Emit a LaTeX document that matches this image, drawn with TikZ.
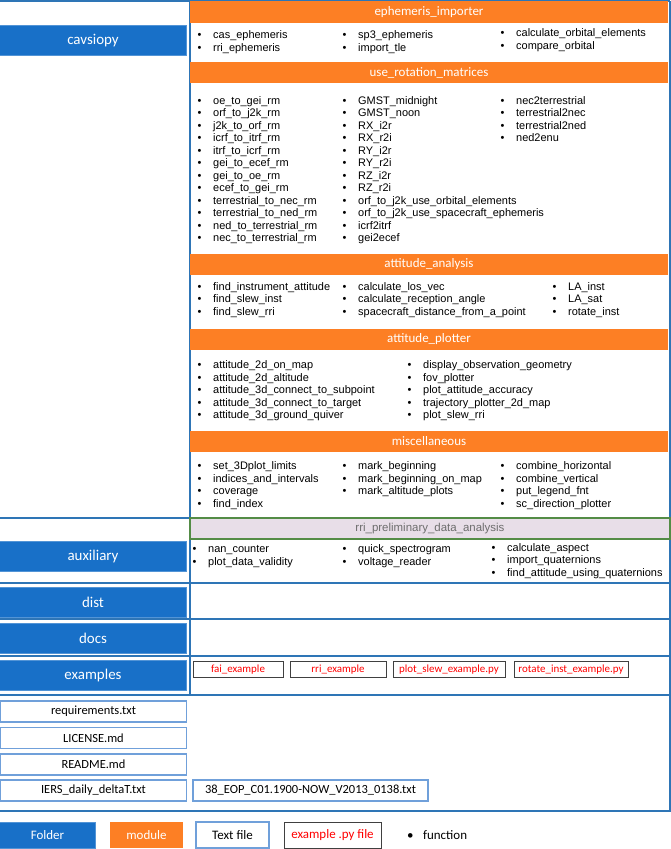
\documentclass[tikz,border=0pt]{standalone}
\usepackage{fontspec}
\setmainfont{Carlito}
\newfontfamily\listfont{Liberation Sans}
\definecolor{folderblue}{RGB}{24,112,200}
\definecolor{lineblue}{RGB}{46,117,182}
\definecolor{moduleorange}{RGB}{253,127,36}
\definecolor{txtblue}{RGB}{112,160,218}
\definecolor{pyframe}{RGB}{64,64,64}
\definecolor{rrifill}{RGB}{232,222,232}
\definecolor{rrigreen}{RGB}{84,140,70}
\definecolor{rrigray}{RGB}{110,110,110}
\tikzset{
  frame/.style={lineblue, line width=1.2bp},
  folder/.style={fill=folderblue, draw=folderblue!75!white, line width=1bp,
    minimum width=186bp, minimum height=30bp, inner sep=0, text=white,
    font=\fontsize{15}{18}\selectfont},
  modhead/.style={fill=moduleorange, minimum width=478bp, minimum height=21bp,
    inner sep=0, text=white, font=\fontsize{13}{15}\selectfont},
  txtfile/.style={fill=white, draw=txtblue, line width=1.2bp, minimum height=21bp,
    inner sep=0, font=\fontsize{12.5}{15}\selectfont},
  pyfile/.style={draw=pyframe, line width=1bp, minimum height=16bp, inner sep=0,
    text=red, font=\fontsize{11}{13}\selectfont},
  fn/.style={anchor=base west, inner sep=0, font=\listfont\fontsize{11}{13}\selectfont},
}
% one column of bulleted function names: prefix, x, first baseline, names
\newcommand\fnlist[4]{%
  \foreach \n [count=\i] in {#4}
    \node[fn] (#1-\i) at (#2,{#3+(\i-1)*12.5}) {\makebox[15.5bp][l]{\textbullet}\n};
}
\begin{document}
\begin{tikzpicture}[x=1bp, y=-1bp]
    \useasboundingbox (0,0) rectangle (671,849);

    % Outer frame and row separators
    \draw[frame] (0,1) -- (670,1);
    \draw[frame] (190,1) -- (190,695);
    \draw[frame] (670,1) -- (670,811);
    \draw[frame] (0,518) -- (190,518);
    \foreach \y in {583,619,656,695} \draw[frame] (0,\y) -- (670,\y);
    \draw[frame] (0,811) -- (671,811);

    % Folders
    \node[folder] (cavsiopy)  at (93,40.5)  {cavsiopy};
    \node[folder] (auxiliary) at (93,556.5) {auxiliary};
    \node[folder] (dist)      at (93,602)   {dist};
    \node[folder] (docs)      at (93,638)   {docs};
    \node[folder] (examples)  at (93,675.5) {examples};

    % Modules of cavsiopy
    \node[modhead] (ephem) at (429,12)    {ephemeris\_importer};
    \node[modhead] (rotm)  at (429,72.5)  {use\_rotation\_matrices};
    \node[modhead] (atta)  at (429,264)   {attitude\_analysis};
    \node[modhead] (attp)  at (429,339.5) {attitude\_plotter};
    \node[modhead] (misc)  at (429,441.5) {miscellaneous};

    \fnlist{ei1}{197.5}{38.5}{cas\_ephemeris, rri\_ephemeris}
    \fnlist{ei2}{342.5}{38.5}{sp3\_ephemeris, import\_tle}
    \fnlist{ei3}{500.5}{36.5}{calculate\_orbital\_elements, compare\_orbital}

    \fnlist{rm1}{197.5}{104}{oe\_to\_gei\_rm, orf\_to\_j2k\_rm, j2k\_to\_orf\_rm,
      icrf\_to\_itrf\_rm, itrf\_to\_icrf\_rm, gei\_to\_ecef\_rm, gei\_to\_oe\_rm,
      ecef\_to\_gei\_rm, terrestrial\_to\_nec\_rm, terrestrial\_to\_ned\_rm,
      ned\_to\_terrestrial\_rm, nec\_to\_terrestrial\_rm}
    \fnlist{rm2}{342.5}{104}{GMST\_midnight, GMST\_noon, RX\_i2r, RX\_r2i, RY\_i2r,
      RY\_r2i, RZ\_i2r, RZ\_r2i, orf\_to\_j2k\_use\_orbital\_elements,
      orf\_to\_j2k\_use\_spacecraft\_ephemeris, icrf2itrf, gei2ecef}
    \fnlist{rm3}{500.5}{104}{nec2terrestrial, terrestrial2nec, terrestrial2ned, ned2enu}

    \fnlist{aa1}{197.5}{290}{find\_instrument\_attitude, find\_slew\_inst, find\_slew\_rri}
    \fnlist{aa2}{342.5}{290}{calculate\_los\_vec, calculate\_reception\_angle,
      spacecraft\_distance\_from\_a\_point}
    \fnlist{aa3}{552.5}{290}{LA\_inst, LA\_sat, rotate\_inst}

    \fnlist{ap1}{197.5}{368.5}{attitude\_2d\_on\_map, attitude\_2d\_altitude,
      attitude\_3d\_connect\_to\_subpoint, attitude\_3d\_connect\_to\_target,
      attitude\_3d\_ground\_quiver}
    \fnlist{ap2}{407.5}{368.5}{display\_observation\_geometry, fov\_plotter,
      plot\_attitude\_accuracy, trajectory\_plotter\_2d\_map, plot\_slew\_rri}

    \fnlist{mi1}{197.5}{469.5}{set\_3Dplot\_limits, indices\_and\_intervals, coverage, find\_index}
    \fnlist{mi2}{342.5}{469.5}{mark\_beginning, mark\_beginning\_on\_map, mark\_altitude\_plots}
    \fnlist{mi3}{500.5}{469.5}{combine\_horizontal, combine\_vertical, put\_legend\_fnt,
      sc\_direction\_plotter}

    % auxiliary
    \node[fill=rrifill, draw=rrigreen, line width=1.2bp, minimum width=480bp,
          minimum height=21bp, inner sep=0, text=rrigray,
          font=\listfont\fontsize{11.5}{13}\selectfont] (rri) at (430,528.5)
          {rri\_preliminary\_data\_analysis};
    \fnlist{ax1}{192.5}{552.5}{nan\_counter, plot\_data\_validity}
    \fnlist{ax2}{342.5}{552.5}{quick\_spectrogram, voltage\_reader}
    \fnlist{ax3}{491.5}{551}{calculate\_aspect, import\_quaternions,
      find\_attitude\_using\_quaternions}

    % examples
    \node[pyfile, minimum width=90bp]  (fai)   at (238,669.5) {fai\_example};
    \node[pyfile, minimum width=96bp]  (rriex) at (338,669.5) {rri\_example};
    \node[pyfile, minimum width=112bp] (slew)  at (449,669.5) {plot\_slew\_example.py};
    \node[pyfile, minimum width=114bp] (rot)   at (571,669.5) {rotate\_inst\_example.py};

    % Text files
    \node[txtfile, minimum width=186bp] (req)  at (93.5,711.5) {requirements.txt};
    \node[txtfile, minimum width=186bp] (lic)  at (93.5,738)   {LICENSE.md};
    \node[txtfile, minimum width=186bp] (read) at (93.5,764.5) {README.md};
    \node[txtfile, minimum width=186bp] (iers) at (93.5,790.5) {IERS\_daily\_deltaT.txt};
    \node[txtfile, minimum width=235bp] (eop)  at (310.5,790.5) {38\_EOP\_C01.1900-NOW\_V2013\_0138.txt};

    % Legend
    \node[folder, minimum width=95bp, minimum height=26bp, font=\fontsize{13}{15}\selectfont]
          (lfolder) at (47.5,835) {Folder};
    \node[modhead, minimum width=73bp, minimum height=26bp] (lmodule) at (146.5,835) {module};
    \node[txtfile, minimum width=73bp, minimum height=26bp, font=\fontsize{13}{15}\selectfont]
          (ltxt) at (232.5,835) {Text file};
    \node[pyfile, minimum width=97bp, minimum height=26bp, font=\fontsize{13}{15}\selectfont]
          (lpy) at (332.5,835) {example .py file};
    \node[anchor=base west, inner sep=0, font=\fontsize{13}{15}\selectfont]
          (lfn) at (407,839.5) {\makebox[16bp][l]{\textbullet}function};
\end{tikzpicture}
\end{document}
